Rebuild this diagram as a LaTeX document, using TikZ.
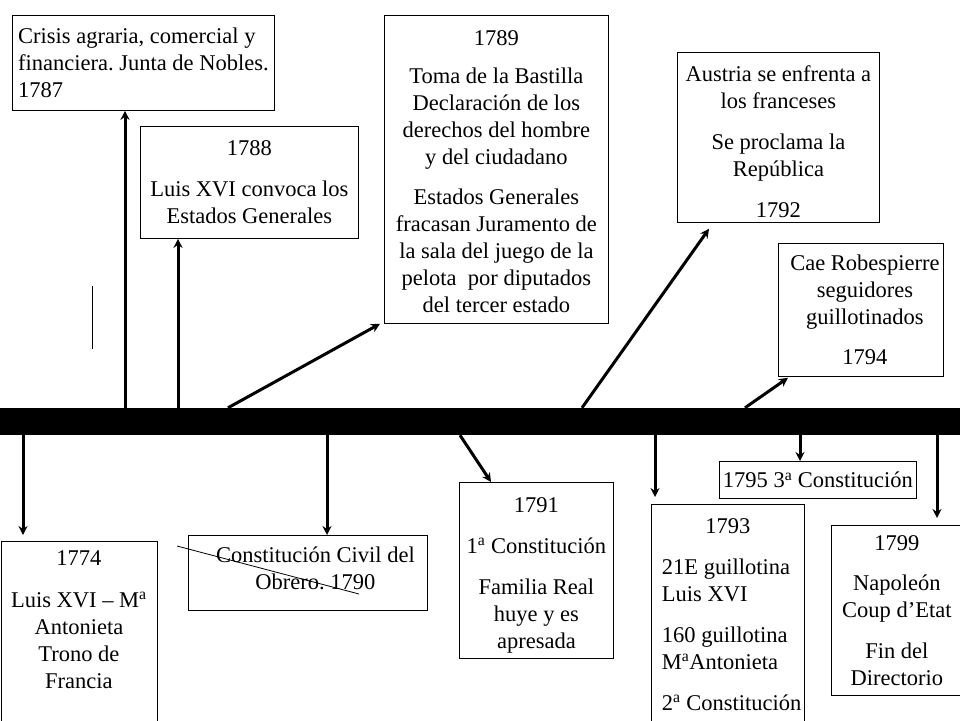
\documentclass[tikz,border=0pt]{standalone}
\usepackage{fontspec}
\setmainfont{Liberation Serif}
\usepackage{tikz}
\usetikzlibrary{arrows,arrows.meta,positioning}

\begin{document}
\begin{tikzpicture}[
    x=1pt, y=-1pt,
    font=\fontsize{22.5}{27}\selectfont\frenchspacing,
    event/.style={rectangle, draw=black, line width=0.8pt, anchor=north west, align=center, inner sep=4pt},
    arrow/.style={-{Stealth[length=9pt,width=9pt]}, line width=3pt},
    stray/.style={line width=0.8pt}
]
\useasboundingbox (0,0) rectangle (960,720);
\clip (0,0) rectangle (960,720);

% Timeline bar
\node (bar) [fill=black, minimum width=960pt, minimum height=27pt, inner sep=0pt] at (480,421.5) {};

% Events above the line
\node (crisis) [event, align=left, minimum width=262pt, minimum height=95pt] at (12,15) {Crisis agraria, comercial y\\ financiera. Junta de Nobles.\\ 1787};
\node (t1788) [event, minimum width=218pt, minimum height=112pt] at (140,126) {1788\\[14pt] Luis XVI convoca los\\ Estados Generales};
\node (t1789) [event, minimum width=224pt, minimum height=308pt] at (384,15) {\rule{0pt}{20pt}1789\\[11pt] Toma de la Bastilla\\ Declaración de los\\ derechos del hombre\\ y del ciudadano\\[13pt] Estados Generales\\ fracasan Juramento de\\ la sala del juego de la\\ pelota\ \ por diputados\\ del tercer estado};
\node (t1792) [event, minimum width=202pt, minimum height=170pt] at (677,52) {\rule{0pt}{25pt}Austria se enfrenta a\\ los franceses\\[14pt] Se proclama la\\ República\\[14pt] 1792};
\node (t1794) [event, minimum width=165pt, minimum height=133pt, inner xsep=0pt] at (778,243) {\hspace*{8pt}Cae Robespierre\\ \hspace*{8pt}seguidores\\ \hspace*{8pt}guillotinados\\[13pt] \hspace*{8pt}1794};

% Events below the line
\node (t1774) [event, minimum width=156pt, inner ysep=9pt] at (0.5,541) {1774\\[15pt] Luis XVI -- M\textsuperscript{a}\\ Antonieta\\ Trono de\\ Francia\rule[-60pt]{0pt}{0pt}};
\node (t1790) [event, minimum width=239pt, minimum height=75pt] at (188,535) {\hspace*{15pt}Constitución Civil del\\ \hspace*{15pt}Obrero. 1790\rule[-10pt]{0pt}{0pt}};
\node (t1791) [event, minimum width=154pt, minimum height=176pt] at (459,482) {\rule{0pt}{25pt}1791\\[14pt] 1\textsuperscript{a} Constitución\\[14pt] Familia Real\\ huye y es\\ apresada};
\node (t1793) [event, align=flush left, text width=150pt, minimum width=153pt, inner xsep=1.5pt, inner ysep=14pt] at (651,504) {\makebox[\linewidth]{1793}\\[14pt] \hspace*{9pt}21E guillotina\\ \hspace*{9pt}Luis XVI\\[14pt] \hspace*{9pt}160 guillotina\\ \hspace*{9pt}M\textsuperscript{a}Antonieta\\[14pt] \hspace*{9pt}2\textsuperscript{a} Constitución\rule[-40pt]{0pt}{0pt}};
\node (t1795) [event, minimum width=197pt, minimum height=37pt, inner sep=0pt] at (719,461) {1795 3\textsuperscript{a} Constitución};
\node (t1799) [event, minimum width=131pt, minimum height=170pt] at (831,525) {1799\\[13pt] Napoleón\\ Coup d’Etat\\[14pt] Fin del\\ Directorio};

% Arrows up
\draw [arrow] (bar.north -| 125,0) -- (crisis.south -| 125,0);
\draw [arrow] (bar.north -| 178,0) -- (t1788.south -| 178,0);
\draw [arrow] (bar.north -| 228,0) -- ([xshift=-4pt]t1789.south west);
\draw [arrow] (bar.north -| 582,0) -- ([shift={(32pt,-6pt)}]t1792.south west);
\draw [arrow] (bar.north -| 745,0) -- ([shift={(10pt,-1pt)}]t1794.south west);

% Arrows down
\draw [arrow, shorten >=6pt] (bar.south -| 23,0) -- (t1774.north -| 23,0);
\draw [arrow] (bar.south -| 327,0) -- (t1790.north -| 327,0);
\draw [arrow] (bar.south -| 460,0) -- ([xshift=32pt]t1791.north west);
\draw [arrow, shorten >=7pt] (bar.south -| 655,0) -- (t1793.north -| 655,0);
\draw [arrow] (bar.south -| 800,0) -- (t1795.north -| 800,0);
\draw [arrow, shorten >=7pt] (bar.south -| 937,0) -- (t1799.north -| 937,0);

% Stray marks
\draw [stray] (92,286) -- (92,349);
\draw [stray] (177,546) -- (359,594);

\end{tikzpicture}
\end{document}
